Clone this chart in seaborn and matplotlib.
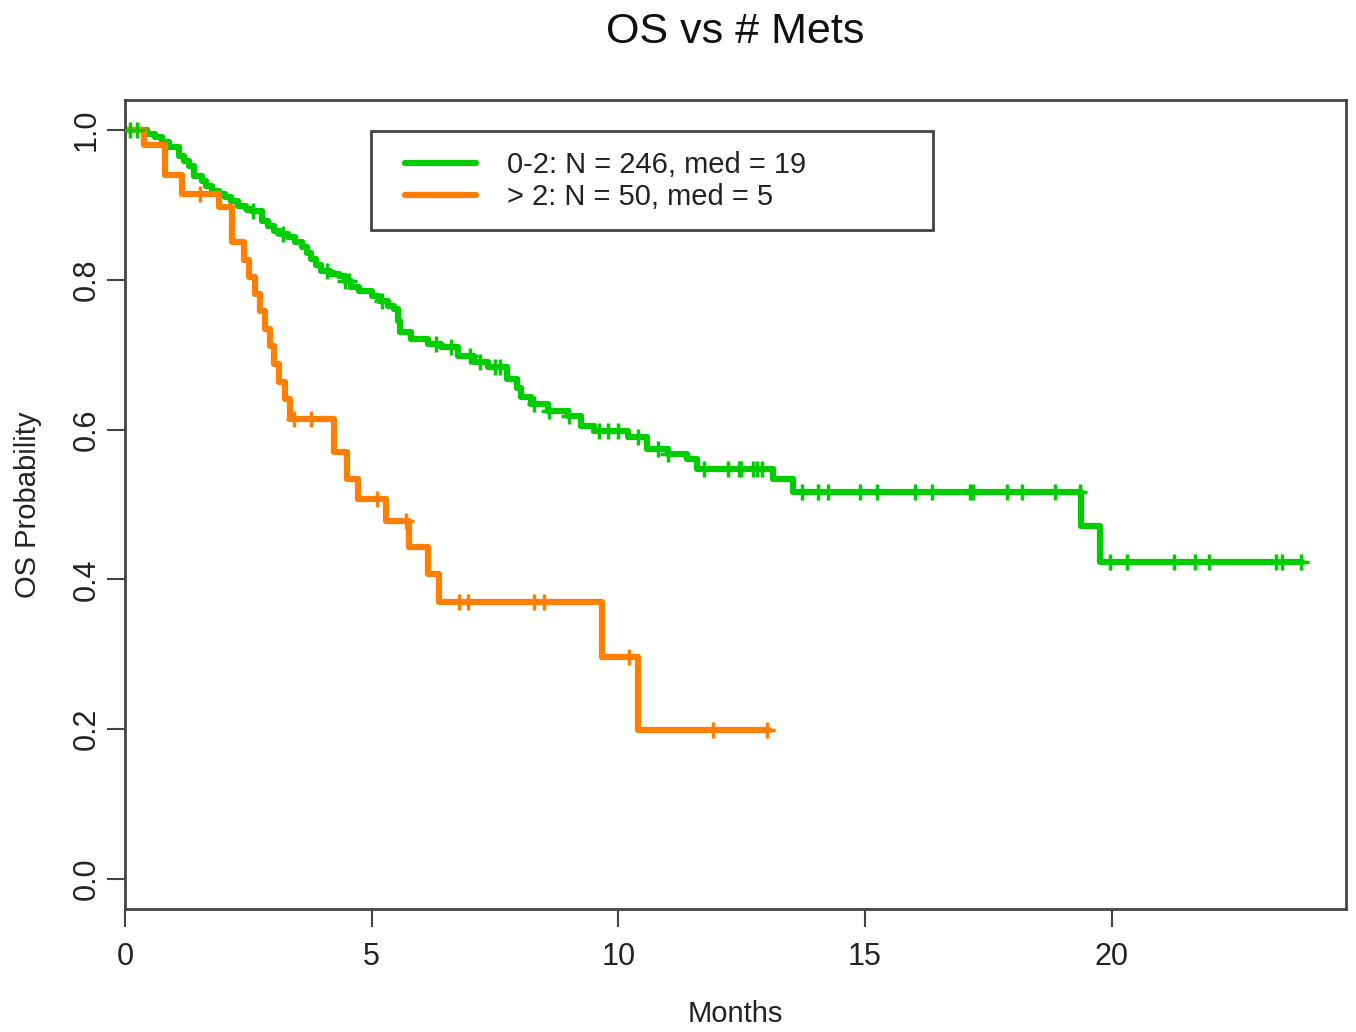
import numpy as np
import pandas as pd
import matplotlib
matplotlib.use('Agg')
import matplotlib.pyplot as plt
from matplotlib.lines import Line2D
from matplotlib.patches import Rectangle
import seaborn as sns

# KM steps: time (months) and survival after each step
low_times = [0, 0.45, 0.6, 0.75, 0.9, 1.1, 1.2, 1.3, 1.4, 1.56, 1.65, 1.76, 1.9, 2.02, 2.15,
             2.3, 2.45, 2.57, 2.77, 2.9, 3.03, 3.15, 3.31, 3.45, 3.58, 3.68, 3.78, 3.88, 3.98,
             4.15, 4.33, 4.45, 4.59, 4.75, 5.0, 5.15, 5.34, 5.45, 5.54, 5.58, 5.8, 6.15, 6.41,
             6.75, 7.08, 7.36, 7.75, 7.95, 8.03, 8.23, 8.57, 8.98, 9.24, 9.5, 10.19, 10.59,
             11.0, 11.4, 11.6, 13.14, 13.55, 19.38, 19.76, 23.86]
low_surv = [1.0, 0.995, 0.99, 0.984, 0.977, 0.965, 0.958, 0.952, 0.939, 0.932, 0.925, 0.918,
            0.914, 0.911, 0.905, 0.899, 0.895, 0.892, 0.879, 0.872, 0.865, 0.861, 0.857, 0.85,
            0.844, 0.836, 0.828, 0.82, 0.812, 0.808, 0.805, 0.798, 0.79, 0.785, 0.778, 0.772,
            0.765, 0.761, 0.745, 0.73, 0.721, 0.714, 0.71, 0.698, 0.69, 0.684, 0.668, 0.656,
            0.644, 0.634, 0.625, 0.618, 0.605, 0.598, 0.59, 0.574, 0.567, 0.561, 0.547, 0.534,
            0.517, 0.471, 0.423, 0.423]
low_censor = [0.1, 0.25, 2.6, 3.2, 4.1, 4.45, 4.55, 5.2, 6.3, 6.6, 7.0, 7.2, 7.5, 7.6, 8.3,
              8.6, 9.0, 9.6, 9.8, 10.0, 10.4, 10.8, 11.0, 11.73, 12.23, 12.44, 12.48, 12.72,
              12.82, 12.92, 13.73, 14.05, 14.26, 14.9, 15.25, 16.02, 16.36, 17.13, 17.19,
              17.88, 18.18, 18.85, 19.35, 19.96, 20.32, 21.27, 21.68, 21.98, 23.34, 23.46, 23.84]

high_times = [0, 0.38, 0.81, 1.15, 1.9, 2.16, 2.41, 2.51, 2.63, 2.73, 2.83, 2.93, 3.03, 3.13,
              3.24, 3.34, 4.24, 4.49, 4.73, 5.3, 5.76, 6.14, 6.36, 9.67, 10.39, 13.05]
high_surv = [1.0, 0.98, 0.94, 0.915, 0.897, 0.85, 0.827, 0.804, 0.781, 0.758, 0.734, 0.711,
             0.688, 0.664, 0.641, 0.614, 0.57, 0.534, 0.507, 0.478, 0.443, 0.407, 0.37,
             0.296, 0.199, 0.199]
high_censor = [1.52, 3.42, 3.78, 5.1, 5.7, 6.77, 6.96, 8.29, 8.49, 10.21, 11.91, 13.02]

groups = ['0-2: N = 246, med = 19', '> 2: N = 50, med = 5']
colors = ['#00CD00', '#FF8000']
pal = dict(zip(groups, colors))


def censor_points(times, surv, cens):
    idx = np.searchsorted(times, cens, side='right') - 1
    return np.array(surv)[idx]


curves = pd.concat([
    pd.DataFrame({'time': low_times, 'surv': low_surv, 'group': groups[0]}),
    pd.DataFrame({'time': high_times, 'surv': high_surv, 'group': groups[1]}),
])
marks = pd.concat([
    pd.DataFrame({'time': low_censor, 'surv': censor_points(low_times, low_surv, low_censor),
                  'group': groups[0]}),
    pd.DataFrame({'time': high_censor, 'surv': censor_points(high_times, high_surv, high_censor),
                  'group': groups[1]}),
])

sns.set_style('ticks')
plt.rcParams['font.family'] = ['Liberation Sans', 'DejaVu Sans']

fig = plt.figure(figsize=(13.56, 10.32), dpi=100)
ax = fig.add_axes([0.0922, 0.1192, 0.9004, 0.7839])

sns.lineplot(data=curves, x='time', y='surv', hue='group', palette=pal,
             drawstyle='steps-post', estimator=None, sort=False,
             linewidth=4.5, legend=False, ax=ax)
sns.scatterplot(data=marks, x='time', y='surv', hue='group', palette=pal,
                marker='+', s=130, linewidth=2.5, legend=False, ax=ax, zorder=3)

ax.set_xlim(0, 24.75)
ax.set_ylim(-0.04, 1.04)
ax.set_xticks([0, 5, 10, 15, 20])
ax.set_yticks([0.0, 0.2, 0.4, 0.6, 0.8, 1.0])
ax.set_yticklabels(['0.0', '0.2', '0.4', '0.6', '0.8', '1.0'], rotation=90, va='center')

for sp in ax.spines.values():
    sp.set_visible(True)
    sp.set_color('#444444')
    sp.set_linewidth(2)
ax.tick_params(axis='both', direction='out', length=13, width=1.5, color='#444444',
               labelsize=22, labelcolor='#222222')
ax.tick_params(axis='x', pad=11)
ax.tick_params(axis='y', pad=4)

ax.set_xlabel('Months', fontsize=21, color='#222222')
ax.set_ylabel('OS Probability', fontsize=21, color='#222222')
ax.xaxis.set_label_coords(0.5, -0.112)
ax.yaxis.set_label_coords(-0.068, 0.5)
ax.set_title('OS vs # Mets', fontsize=31, y=1.06, color='#111111')

# legend box in the R style
handles = [Line2D([], [], color=c, lw=4.5) for c in colors]
ax.legend(handles, groups, loc='upper left', bbox_to_anchor=(0.2296, 0.9365),
          frameon=False, borderpad=0, borderaxespad=0, handlelength=2.43,
          handletextpad=1.07, labelspacing=0.14, fontsize=21, labelcolor='#222222')
ax.add_patch(Rectangle((0.2015, 0.8393), 0.4603, 0.1224, transform=ax.transAxes,
                       fill=False, edgecolor='#444444', linewidth=2, zorder=5))

fig.savefig('out.png', dpi=100, facecolor='white')
